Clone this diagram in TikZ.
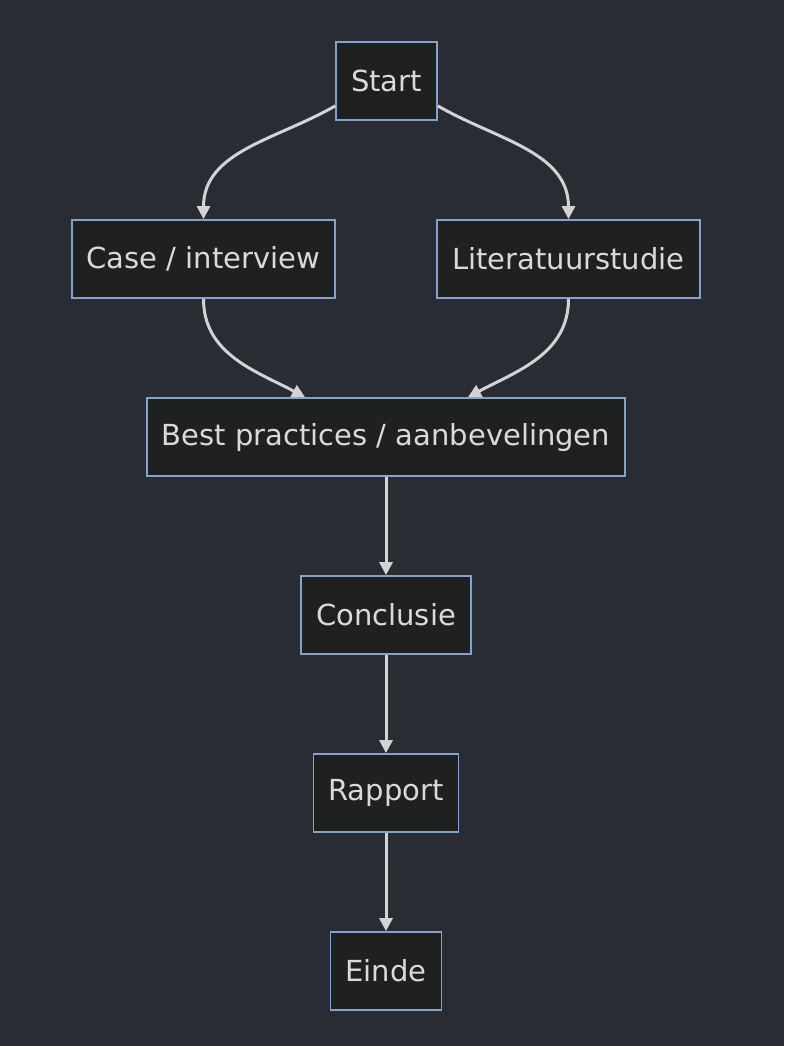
\documentclass[tikz,border=0pt]{standalone}
\usepackage{fontspec}
\setmainfont{DejaVu Sans}
\usetikzlibrary{arrows.meta}
\definecolor{bgcol}{RGB}{42,44,52}
\definecolor{boxfill}{RGB}{31,32,32}
\definecolor{boxline}{RGB}{129,164,204}
\definecolor{txtcol}{RGB}{218,218,218}
\definecolor{linecol}{RGB}{211,211,211}
\tikzset{
	stepbox/.style={draw=boxline, fill=boxfill, line width=1.8pt, text=txtcol,
		minimum height=78pt, inner xsep=15pt, font=\fontsize{29}{33}\selectfont},
	edge/.style={draw=linecol, line width=3pt, -{Triangle[length=13pt,width=13pt]}}
}
\begin{document}
\begin{tikzpicture}[x=1pt,y=1pt]
	\fill[bgcol] (0,0) rectangle (784,-1046);
	\useasboundingbox (0,0) rectangle (784,-1046);
	
	\node[stepbox] (start) at (386.5,-81) {Start};
	\node[stepbox] (case) at (203.5,-259) {Case / interview};
	\node[stepbox] (lit) at (568.5,-259) {Literatuurstudie};
	\node[stepbox] (best) at (386,-437) {Best practices / aanbevelingen};
	\node[stepbox] (concl) at (386,-615) {Conclusie};
	\node[stepbox] (rapport) at (386,-793) {Rapport};
	\node[stepbox] (einde) at (386,-971) {Einde};
	
	\draw[edge] ([yshift=15pt]start.south west) to[out=-150, in=90] (case.north);
	\draw[edge] ([yshift=15pt]start.south east) to[out=-30, in=90] (lit.north);
	\draw[edge] (case.south) to[out=-90, in=152] ([xshift=-81pt]best.north);
	\draw[edge] (lit.south) to[out=-90, in=28] ([xshift=82pt]best.north);
	\draw[edge] (best) -- (concl);
	\draw[edge] (concl) -- (rapport);
	\draw[edge] (rapport) -- (einde);
\end{tikzpicture}
\end{document}
